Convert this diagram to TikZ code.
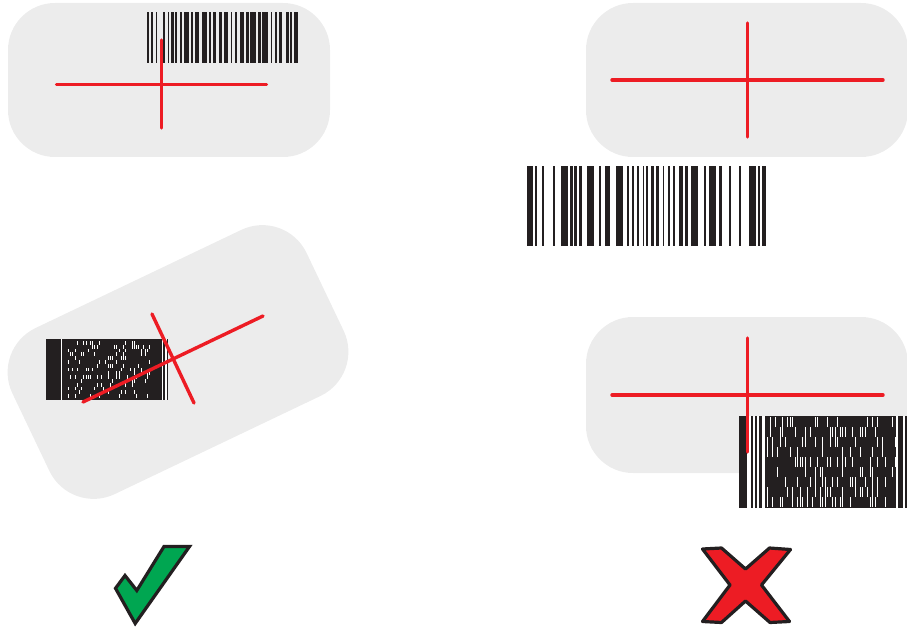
\documentclass[tikz,border=0pt]{standalone}
\definecolor{panelgray}{HTML}{ECECEC}
\definecolor{aimred}{HTML}{ED1C24}
\definecolor{barblack}{HTML}{231F20}
\definecolor{okgreen}{HTML}{00A651}
\tikzset{
  panel/.style={fill=panelgray, rounded corners=47pt},
  aim/.style={draw=aimred, line width=3.4pt, line cap=round},
  bars/.style={fill=barblack},
  markline/.style={draw=barblack, line width=3.2pt},
}
\begin{document}
\begin{tikzpicture}[x=1pt,y=-1pt]
\useasboundingbox (0,0) rectangle (907,628);

% ---------- Panel 1 (top left) ----------
\fill[panel] (8,3) rectangle (330,157);
\foreach \a/\b in {147/149, 150.7/153, 156/157.3, 162.7/164.7, 167.7/169.3, 171.3/173.7,
  174.7/176.7, 180/182, 184.3/188.7, 191.3/193, 194.7/198.7, 202.3/206.7, 209.3/210.7,
  212.7/216, 218.7/222, 224/227.7, 230.7/232.3, 235/236.7, 240/244.3, 246/248.7,
  250/255.7, 258.3/260.7, 262.3/268.3, 270.7/272, 275.3/277.3, 279.3/282, 286/288.7,
  290/291.7, 294/298}
  \fill[bars] (\a,12) rectangle (\b,63);
\draw[aim] (56.5,84.5) -- (266.5,84.5);
\draw[aim] (161.7,40) -- (161.7,128);

% ---------- Panel 2 (top right) ----------
\fill[panel] (586,3) rectangle (908,157);
\draw[aim] (612,80) -- (883,80);
\draw[aim] (747.5,23) -- (747.5,137);

% barcode below panel 2
\foreach \a/\b in {527.3/532.7, 535/536.7, 542/543.7, 553.3/555.3, 560.7/567.7,
  570.3/572.7, 574.3/577.3, 579.3/582, 586.7/594, 599/601.3, 605.3/610, 616/623,
  626.7/628.7, 632/634, 637.3/639.3, 642.7/644.3, 645.7/648.3, 650.7/654, 656.3/659.3,
  662.7/664.3, 668.3/670, 672.7/675.3, 678.7/683, 685.3/688.3, 691/697.7, 703.7/705.7,
  708.7/716, 719.3/722, 729.3/731.3, 738.7/740.7, 748.7/755.7, 757.7/760, 762.3/766}
  \fill[bars] (\a,166) rectangle (\b,246);

% ---------- Panel 3 (rotated) ----------
\begin{scope}[shift={(178,362)}, rotate=25.5]
  \fill[panelgray, rounded corners=49pt] (-163,-92) rectangle (163,92);
\end{scope}
% PDF417 in panel 3
\fill[bars] (46,339) rectangle (168,400);
\fill[white] (60.7,339) rectangle (62.3,400);
\fill[white] (161.7,339) rectangle (163.3,400);
\fill[white] (165,339) rectangle (166.7,400);
\pgfmathsetseed{12}
\foreach \r in {0,...,14}{
  \foreach \c in {0,...,37}{
    \pgfmathparse{rnd}
    \ifdim\pgfmathresult pt<0.22pt
      \fill[white] ({68+2.2*\c},{341+3.8*\r}) rectangle ++(1,3.8);
    \fi
  }
}
\draw[aim] (83,402) -- (263,316);
\draw[aim] (152,314) -- (194,403);

% ---------- Panel 4 (bottom right) ----------
\fill[panel] (586,317) rectangle (908,473);
% PDF417 in panel 4
\fill[bars] (739,416) rectangle (907,508);
\foreach \a/\b in {746.7/750.7, 752.7/755, 757.3/759.3, 761.7/765, 896/898.3, 903.3/905}
  \fill[white] (\a,416) rectangle (\b,508);
\pgfmathsetseed{31}
\foreach \r in {0,...,8}{
  \foreach \c in {0,...,51}{
    \pgfmathparse{rnd}
    \ifdim\pgfmathresult pt<0.28pt
      \fill[white] ({767+2.5*\c},{417+10*\r}) rectangle ++(1.3,10);
    \fi
  }
}
\draw[aim] (612,395) -- (883,395);
\draw[aim] (747.5,338) -- (747.5,452);

% ---------- Check mark ----------
\filldraw[markline, fill=okgreen]
  (164,546.5) -- (189.5,546.5) -- (135.2,623.5) -- (115.5,588.3) -- (125,575.5)
  -- (136.8,590.5) -- cycle;

% ---------- X mark ----------
\filldraw[markline, fill=aimred, line join=round]
  (702.5,549) -- (721.5,548) -- (745.5,569) -- (769.5,548) -- (790.5,549.5) -- (761.5,585)
  -- (789.5,621.5) -- (770,622.5) -- (745.5,601) -- (721.5,622.5) -- (702.5,621.5) -- (730,585)
  -- cycle;

\end{tikzpicture}
\end{document}
